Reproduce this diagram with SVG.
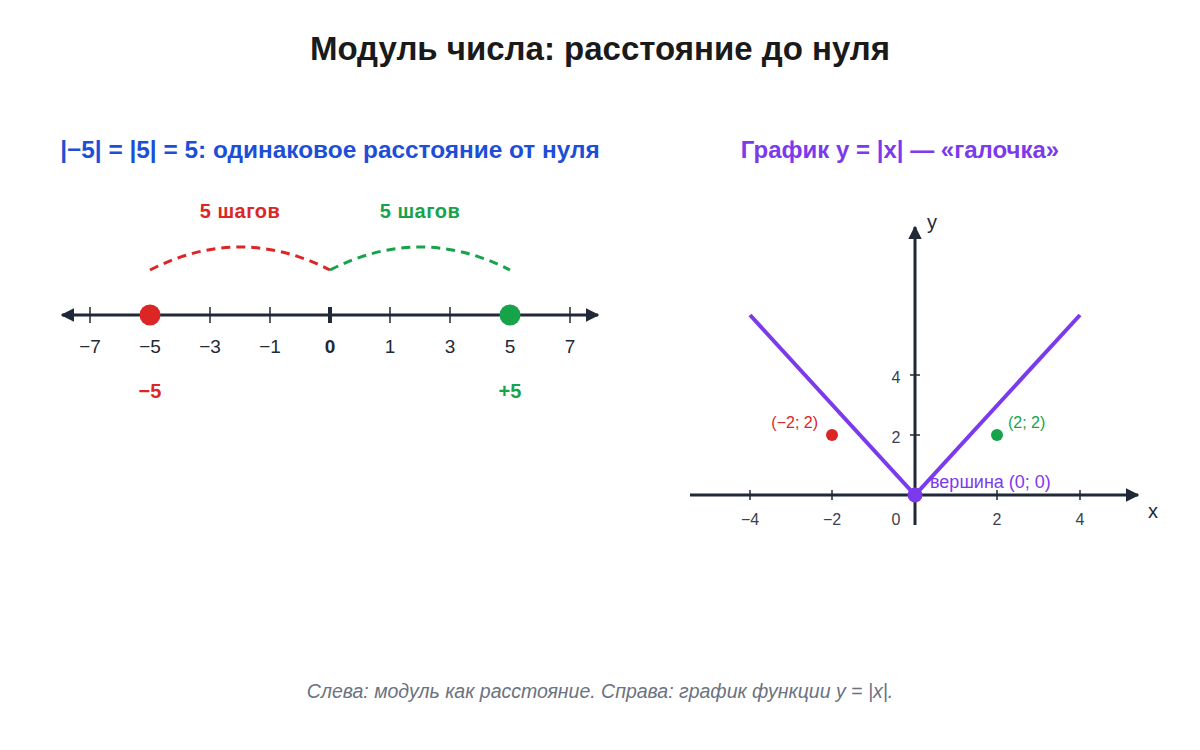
<svg xmlns="http://www.w3.org/2000/svg" width="1200" height="750" viewBox="0 0 1200 750">
<defs>
<style>
text{font-family:"Liberation Sans",Arial,sans-serif}
.ax{stroke:#1f2937;stroke-width:3;fill:none}
.tk{stroke:#1f2937;stroke-width:1.5}
.nl{font-size:19px;fill:#1f2937;text-anchor:middle}
.gl{font-size:16px;fill:#374151;text-anchor:middle}
.arc{fill:none;stroke-width:3;stroke-dasharray:9 6}
</style>
<marker id="ah" viewBox="0 0 10 10" refX="9" refY="5" markerWidth="4.5" markerHeight="4.5" orient="auto-start-reverse"><path d="M0,0L10,5L0,10z" fill="#1f2937"/></marker>
</defs>
<rect width="1200" height="750" fill="#fff"/>
<text x="600" y="60" text-anchor="middle" font-size="33" font-weight="bold" fill="#1a1a1a">Модуль числа: расстояние до нуля</text>
<text x="330" y="158" text-anchor="middle" font-size="24.4" font-weight="bold" fill="#1d4ed8">|−5| = |5| = 5: одинаковое расстояние от нуля</text>
<text x="900" y="158" text-anchor="middle" font-size="24" font-weight="bold" fill="#7c3aed">График y = |x| — «галочка»</text>

<g id="numberline">
<line class="ax" x1="62" y1="315" x2="598" y2="315" marker-start="url(#ah)" marker-end="url(#ah)"/>
<g class="tk">
<line x1="90" y1="307" x2="90" y2="323"/><line x1="150" y1="307" x2="150" y2="323"/><line x1="210" y1="307" x2="210" y2="323"/><line x1="270" y1="307" x2="270" y2="323"/>
<line x1="330" y1="307" x2="330" y2="323" stroke-width="4"/>
<line x1="390" y1="307" x2="390" y2="323"/><line x1="450" y1="307" x2="450" y2="323"/><line x1="510" y1="307" x2="510" y2="323"/><line x1="570" y1="307" x2="570" y2="323"/>
</g>
<text class="nl" x="90" y="353">−7</text><text class="nl" x="150" y="353">−5</text><text class="nl" x="210" y="353">−3</text><text class="nl" x="270" y="353">−1</text>
<text class="nl" x="330" y="353" font-weight="bold">0</text>
<text class="nl" x="390" y="353">1</text><text class="nl" x="450" y="353">3</text><text class="nl" x="510" y="353">5</text><text class="nl" x="570" y="353">7</text>
</g>
<g id="connectors">
<path class="arc" stroke="#dc2626" d="M150,270 Q240,224 330,270"/>
<path class="arc" stroke="#16a34a" d="M330,270 Q420,224 510,270"/>
</g>
<g id="point-neg5">
<circle cx="150" cy="315" r="10.5" fill="#dc2626"/>
<text x="150" y="398" text-anchor="middle" font-size="20" font-weight="bold" fill="#dc2626">−5</text>
<text x="240" y="218" text-anchor="middle" font-size="20" font-weight="bold" letter-spacing="0.5" fill="#dc2626">5 шагов</text>
</g>
<g id="point-pos5">
<circle cx="510" cy="315" r="10.5" fill="#16a34a"/>
<text x="510" y="398" text-anchor="middle" font-size="20" font-weight="bold" fill="#16a34a">+5</text>
<text x="420" y="218" text-anchor="middle" font-size="20" font-weight="bold" letter-spacing="0.5" fill="#16a34a">5 шагов</text>
</g>

<g id="graph-axes">
<line class="ax" x1="690" y1="495" x2="1138" y2="495" marker-end="url(#ah)"/>
<line class="ax" x1="915" y1="525" x2="915" y2="227" marker-end="url(#ah)"/>
<g class="tk">
<line x1="750" y1="490" x2="750" y2="500"/><line x1="832" y1="490" x2="832" y2="500"/><line x1="997" y1="490" x2="997" y2="500"/><line x1="1080" y1="490" x2="1080" y2="500"/>
<line x1="910" y1="435" x2="920" y2="435"/><line x1="910" y1="375" x2="920" y2="375"/>
</g>
<text class="gl" x="750" y="525">−4</text><text class="gl" x="832" y="525">−2</text><text class="gl" x="896" y="525">0</text><text class="gl" x="997" y="525">2</text><text class="gl" x="1080" y="525">4</text>
<text class="gl" x="896" y="443">2</text><text class="gl" x="896" y="383">4</text>
<text x="932" y="229" font-size="20" fill="#1f2937" text-anchor="middle">y</text>
<text x="1153" y="518" font-size="20" fill="#1f2937" text-anchor="middle">x</text>
</g>
<g id="graph-line">
<polyline points="750,315 915,495 1080,315" fill="none" stroke="#7c3aed" stroke-width="4"/>
</g>
<g id="pt-neg">
<circle cx="832" cy="435" r="6" fill="#dc2626"/>
<text x="818" y="428" text-anchor="end" font-size="16" fill="#dc2626">(−2; 2)</text>
</g>
<g id="pt-pos">
<circle cx="997" cy="435" r="6" fill="#16a34a"/>
<text x="1008" y="428" font-size="16" fill="#16a34a">(2; 2)</text>
</g>
<g id="vertex">
<circle cx="915" cy="495" r="7.5" fill="#7c3aed"/>
<text x="930" y="488" font-size="18" fill="#7c3aed">вершина (0; 0)</text>
</g>
<text x="600" y="698" text-anchor="middle" font-size="19.5" font-style="italic" fill="#6b7280">Слева: модуль как расстояние. Справа: график функции y = |x|.</text>
</svg>
